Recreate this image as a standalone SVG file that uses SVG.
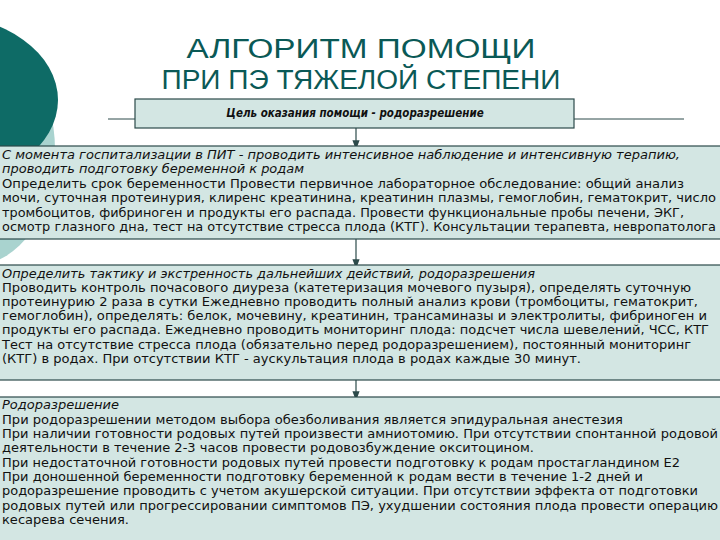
<svg xmlns="http://www.w3.org/2000/svg" width="720" height="540" viewBox="0 0 720 540">
<style>
.box{fill:#d3e6e3;stroke:#2c4a4a;stroke-width:1.2}
.t{font-family:"DejaVu Sans Condensed","DejaVu Sans",sans-serif;font-size:11.5px;fill:#111}
.i{font-style:italic}
.ti{font-family:"Liberation Sans",Arial,sans-serif;font-size:27px;fill:#0a5956;text-anchor:middle}
.c{stroke:#2c4a4a;stroke-width:1.2;fill:none;marker-end:url(#a)}
</style>
<defs><marker id="a" markerWidth="8" markerHeight="8" refX="4" refY="4" orient="auto"><path d="M0,1 L8,4 L0,7 Z" fill="#2c4a4a"/></marker></defs>
<rect width="720" height="540" fill="#fff"/>
<ellipse cx="-25" cy="150" rx="80" ry="115" fill="#a9d3cf"/>
<ellipse cx="-60" cy="100" rx="118" ry="85" fill="#0e6b66"/>
<text class="ti" x="361" y="58" textLength="349" lengthAdjust="spacingAndGlyphs">АЛГОРИТМ ПОМОЩИ</text>
<text class="ti" x="361" y="89" textLength="399" lengthAdjust="spacingAndGlyphs">ПРИ ПЭ ТЯЖЕЛОЙ СТЕПЕНИ</text>
<line x1="108" y1="119" x2="684" y2="119" stroke="#2c4a4a" stroke-width="1"/>
<g id="connectors">
<path class="c" d="M356,128 V145"/>
<path class="c" d="M356,239 V264"/>
<path class="c" d="M356,380 V396"/>
</g>
<g id="goal"><rect class="box" x="135" y="99" width="439" height="29"/>
<text class="t i" x="355" y="117" text-anchor="middle" font-weight="bold">Цель оказания помощи - родоразрешение</text></g>
<g id="step1"><rect class="box" x="-1" y="146" width="722" height="93"/>
<text class="t i" x="2" y="159" textLength="678" lengthAdjust="spacingAndGlyphs">С момента госпитализации в ПИТ - проводить интенсивное наблюдение и интенсивную терапию,</text>
<text class="t i" x="2" y="173" textLength="302" lengthAdjust="spacingAndGlyphs">проводить подготовку беременной к родам</text>
<text class="t" x="2" y="188" textLength="682" lengthAdjust="spacingAndGlyphs">Определить срок беременности Провести первичное лабораторное обследование: общий анализ</text>
<text class="t" x="2" y="202" textLength="714" lengthAdjust="spacingAndGlyphs">мочи, суточная протеинурия, клиренс креатинина, креатинин плазмы, гемоглобин, гематокрит, число</text>
<text class="t" x="2" y="217" textLength="682" lengthAdjust="spacingAndGlyphs">тромбоцитов, фибриноген и продукты его распада. Провести функциональные пробы печени, ЭКГ,</text>
<text class="t" x="2" y="231" textLength="714" lengthAdjust="spacingAndGlyphs">осмотр глазного дна, тест на отсутствие стресса плода (КТГ). Консультации терапевта, невропатолога</text></g>
<g id="step2"><rect class="box" x="-1" y="265" width="722" height="115"/>
<text class="t i" x="2" y="278" textLength="533" lengthAdjust="spacingAndGlyphs">Определить тактику и экстренность дальнейших действий, родоразрешения</text>
<text class="t" x="2" y="292" textLength="689" lengthAdjust="spacingAndGlyphs">Проводить контроль почасового диуреза (катетеризация мочевого пузыря), определять суточную</text>
<text class="t" x="2" y="306" textLength="696" lengthAdjust="spacingAndGlyphs">протеинурию 2 раза в сутки Ежедневно проводить полный анализ крови (тромбоциты, гематокрит,</text>
<text class="t" x="2" y="320" textLength="705" lengthAdjust="spacingAndGlyphs">гемоглобин), определять: белок, мочевину, креатинин, трансаминазы и электролиты, фибриноген и</text>
<text class="t" x="2" y="334" textLength="707" lengthAdjust="spacingAndGlyphs">продукты его распада. Ежедневно проводить мониторинг плода: подсчет числа шевелений, ЧСС, КТГ</text>
<text class="t" x="2" y="349" textLength="689" lengthAdjust="spacingAndGlyphs">Тест на отсутствие стресса плода (обязательно перед родоразрешением), постоянный мониторинг</text>
<text class="t" x="2" y="363" textLength="579" lengthAdjust="spacingAndGlyphs">(КТГ) в родах. При отсутствии КТГ - аускультация плода в родах каждые 30 минут.</text></g>
<g id="step3"><rect class="box" x="-1" y="397" width="722" height="145"/>
<text class="t i" x="2" y="409" textLength="117" lengthAdjust="spacingAndGlyphs">Родоразрешение</text>
<text class="t" x="2" y="424" textLength="621" lengthAdjust="spacingAndGlyphs">При родоразрешении методом выбора обезболивания является эпидуральная анестезия</text>
<text class="t" x="2" y="438" textLength="716" lengthAdjust="spacingAndGlyphs">При наличии готовности родовых путей произвести амниотомию. При отсутствии спонтанной родовой</text>
<text class="t" x="2" y="452" textLength="532" lengthAdjust="spacingAndGlyphs">деятельности в течение 2-3 часов провести родовозбуждение окситоцином.</text>
<text class="t" x="2" y="467" textLength="678" lengthAdjust="spacingAndGlyphs">При недостаточной готовности родовых путей провести подготовку к родам простагландином Е2</text>
<text class="t" x="2" y="481" textLength="641" lengthAdjust="spacingAndGlyphs">При доношенной беременности подготовку беременной к родам вести в течение 1-2 дней и</text>
<text class="t" x="2" y="495" textLength="696" lengthAdjust="spacingAndGlyphs">родоразрешение проводить с учетом акушерской ситуации. При отсутствии эффекта от подготовки</text>
<text class="t" x="2" y="510" textLength="716" lengthAdjust="spacingAndGlyphs">родовых путей или прогрессировании симптомов ПЭ, ухудшении состояния плода провести операцию</text>
<text class="t" x="2" y="524" textLength="127" lengthAdjust="spacingAndGlyphs">кесарева сечения.</text></g>
</svg>
